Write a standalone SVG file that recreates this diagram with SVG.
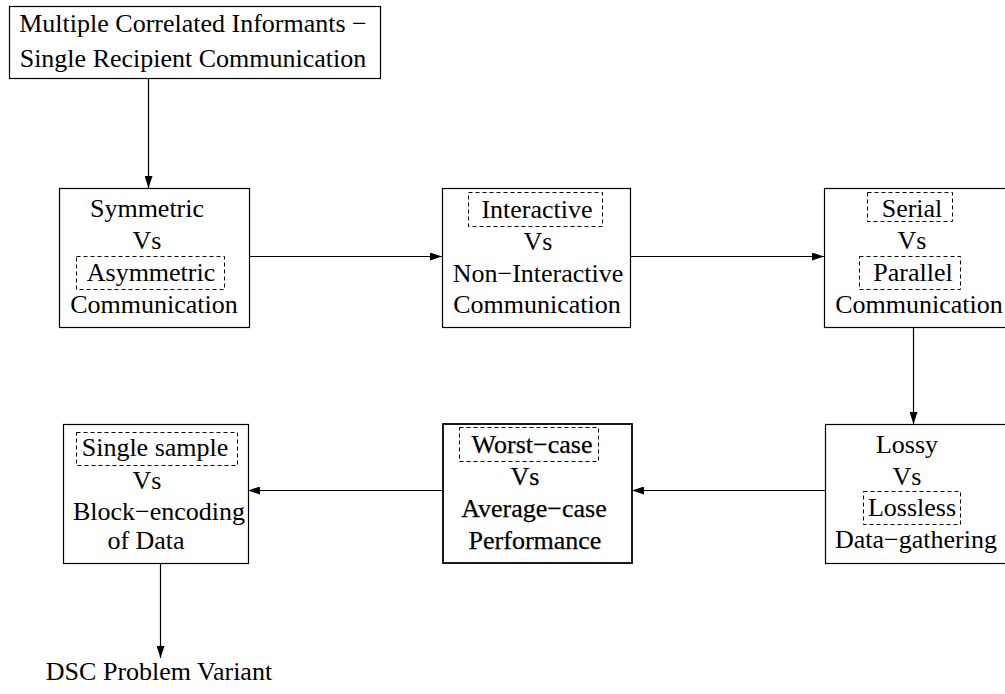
<svg xmlns="http://www.w3.org/2000/svg" width="1005" height="694" viewBox="0 0 1005 694">
<defs>
<marker id="ah" markerUnits="userSpaceOnUse" markerWidth="12" markerHeight="8" refX="12" refY="4" orient="auto">
<path d="M0,0 L12,4 L0,8 z" fill="#000"/>
</marker>
<style>
.box{fill:#fff;stroke:#000;stroke-width:1.2}
.bold{stroke-width:1.8}
.dash{fill:none;stroke:#000;stroke-width:1;stroke-dasharray:4 3}
text{font-family:"Liberation Serif","Times New Roman",serif;font-size:26px;fill:#000;text-anchor:middle}
.heavy{stroke:#000;stroke-width:0.25}
.conn{fill:none;stroke:#000;stroke-width:1.2;marker-end:url(#ah)}
</style>
</defs>
<rect width="1005" height="694" fill="#fff"/>
<g id="connectors">
<path class="conn" d="M148.5,78 V188"/>
<path class="conn" d="M249,256.5 H442"/>
<path class="conn" d="M630,256.5 H824"/>
<path class="conn" d="M913.5,327 V424"/>
<path class="conn" d="M825,490.5 H632"/>
<path class="conn" d="M443,490.5 H248"/>
<path class="conn" d="M160.5,563 V658"/>
</g>
<g id="top">
<rect class="box" x="9.5" y="6.5" width="371" height="72"/>
<text x="193" y="32">Multiple Correlated Informants −</text>
<text x="193" y="67">Single Recipient Communication</text>
</g>
<g id="symmetric">
<rect class="box" x="59.5" y="188.5" width="190" height="139"/>
<rect class="dash" x="76.5" y="256.5" width="148" height="33"/>
<text x="147" y="217">Symmetric</text>
<text x="147" y="249">Vs</text>
<text x="151" y="281">Asymmetric</text>
<text x="154" y="313">Communication</text>
</g>
<g id="interactive">
<rect class="box" x="442.5" y="188.5" width="188" height="139"/>
<rect class="dash" x="468.5" y="192.5" width="134" height="34"/>
<text x="537" y="218">Interactive</text>
<text x="538" y="250">Vs</text>
<text x="538" y="282">Non−Interactive</text>
<text x="537" y="313">Communication</text>
</g>
<g id="serial">
<rect class="box" x="824.5" y="188.5" width="192" height="139"/>
<rect class="dash" x="867.5" y="192.5" width="85" height="29"/>
<rect class="dash" x="859.5" y="256.5" width="101" height="33"/>
<text x="912" y="217">Serial</text>
<text x="912" y="249">Vs</text>
<text x="913" y="281">Parallel</text>
<text x="919" y="313">Communication</text>
</g>
<g id="lossy">
<rect class="box" x="825.5" y="424.5" width="190" height="139"/>
<rect class="dash" x="863.5" y="491.5" width="97" height="33"/>
<text x="907" y="453">Lossy</text>
<text x="907" y="485">Vs</text>
<text x="912" y="516">Lossless</text>
<text x="916" y="548">Data−gathering</text>
</g>
<g id="worstcase">
<rect class="box bold" x="443" y="424" width="189" height="139"/>
<rect class="dash" x="459.5" y="427.5" width="139" height="34"/>
<text class="heavy" x="532" y="453">Worst−case</text>
<text class="heavy" x="525" y="485">Vs</text>
<text class="heavy" x="534" y="517">Average−case</text>
<text class="heavy" x="535" y="549">Performance</text>
</g>
<g id="single">
<rect class="box" x="63.5" y="424.5" width="185" height="139"/>
<rect class="dash" x="76.5" y="432.5" width="161" height="33"/>
<text x="155" y="456">Single sample</text>
<text x="147" y="489">Vs</text>
<text x="159" y="520">Block−encoding</text>
<text x="146" y="549">of Data</text>
</g>
<g id="dsc">
<text x="159" y="680">DSC Problem Variant</text>
</g>
</svg>
